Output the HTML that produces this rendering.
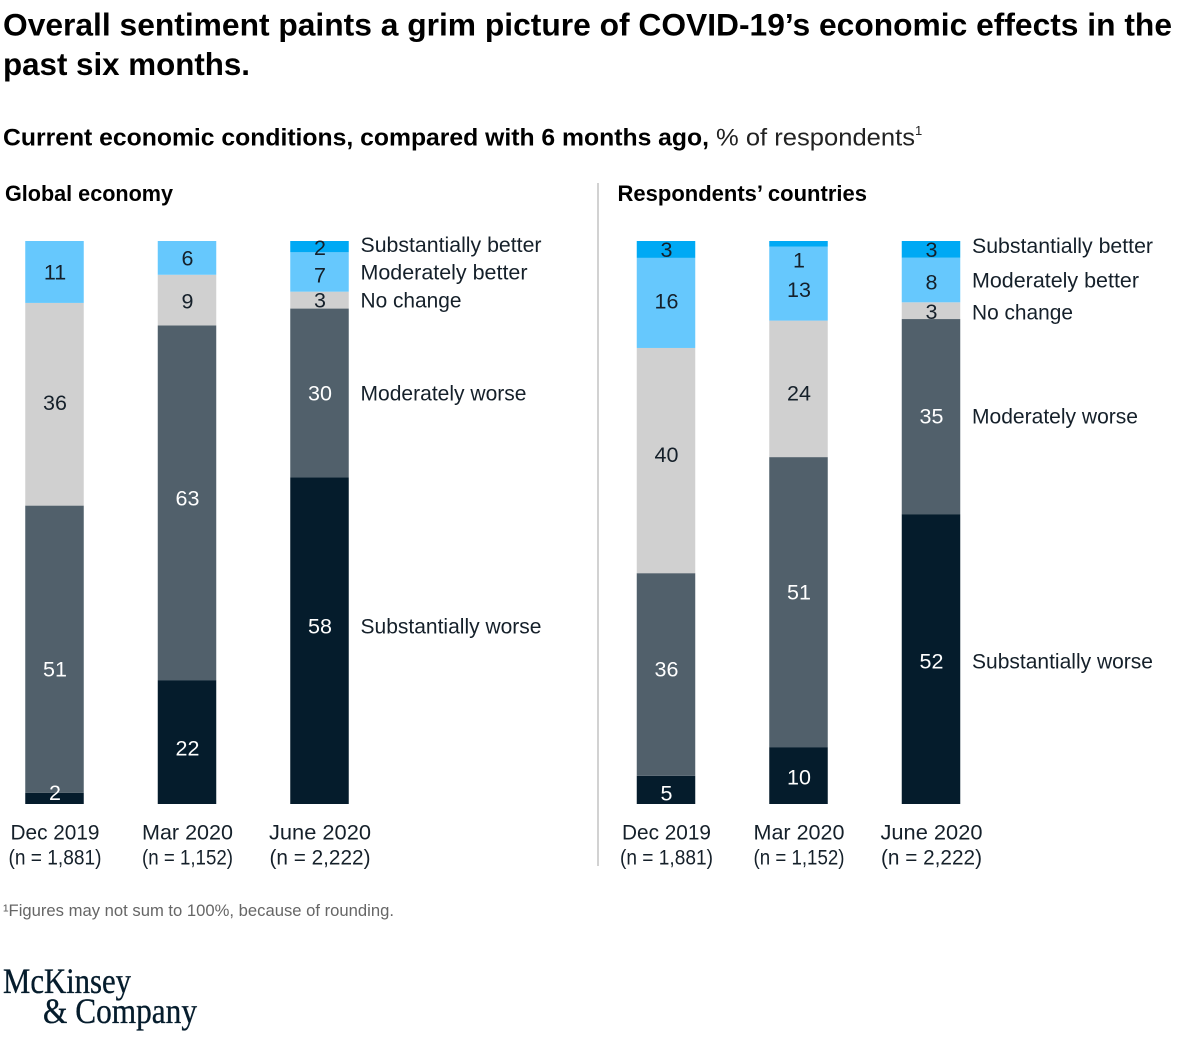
<!DOCTYPE html>
<html lang="en">
<head>
<meta charset="utf-8">
<title>COVID-19 economic sentiment</title>
<style>
html,body{margin:0;padding:0;background:#fff;}
svg{display:block;font-family:"Liberation Sans",sans-serif;}
</style>
</head>
<body>
<svg id="chart" xmlns="http://www.w3.org/2000/svg" width="1200" height="1041" viewBox="0 0 1200 1041">
  <rect x="0" y="0" width="1200" height="1041" fill="#fff"/>
  <text x="3" y="35.5" font-size="31.5" font-weight="700" fill="#000" textLength="1169" lengthAdjust="spacingAndGlyphs">Overall sentiment paints a grim picture of COVID-19’s economic effects in the</text>
  <text x="3" y="75" font-size="31.5" font-weight="700" fill="#000" textLength="247" lengthAdjust="spacingAndGlyphs">past six months.</text>
  <text x="3" y="145.5" font-size="24.5" font-weight="700" fill="#000" textLength="706" lengthAdjust="spacingAndGlyphs">Current economic conditions, compared with 6 months ago,</text>
  <text x="716" y="145.5" font-size="24.5" fill="#222" textLength="199" lengthAdjust="spacingAndGlyphs">% of respondents</text>
  <text x="915" y="135" font-size="13" fill="#222">1</text>
  <text x="5" y="201" font-size="22.5" font-weight="700" fill="#000" textLength="168" lengthAdjust="spacingAndGlyphs">Global economy</text>
  <text x="617.5" y="201" font-size="22.5" font-weight="700" fill="#000" textLength="249.5" lengthAdjust="spacingAndGlyphs">Respondents’ countries</text>
  <line x1="598" y1="183" x2="598" y2="866" stroke="#c4c4c4" stroke-width="1.5"/>
  <g id="marks"></g>
  <text x="3" y="916" font-size="16.5" fill="#666" textLength="391" lengthAdjust="spacingAndGlyphs">¹Figures may not sum to 100%, because of rounding.</text>
  <g font-family="'Liberation Serif',serif" fill="#051c2c" stroke="#051c2c" stroke-width="0.35">
    <text x="3" y="993" font-size="36" textLength="128" lengthAdjust="spacingAndGlyphs">McKinsey</text>
    <text x="43" y="1023" font-size="36" textLength="154" lengthAdjust="spacingAndGlyphs">&amp; Company</text>
  </g>
</svg>
<script>
// Data
const categories = ['Dec 2019', 'Mar 2020', 'June 2020'];
const sampleSizes = ['(n = 1,881)', '(n = 1,152)', '(n = 2,222)'];
const seriesNames = ['Substantially worse', 'Moderately worse', 'No change', 'Moderately better', 'Substantially better'];

const globalSubstantiallyWorse = [2, 22, 58];
const globalModeratelyWorse = [51, 63, 30];
const globalNoChange = [36, 9, 3];
const globalModeratelyBetter = [11, 6, 7];
const globalSubstantiallyBetter = [0, 0, 2];

const countriesSubstantiallyWorse = [5, 10, 52];
const countriesModeratelyWorse = [36, 51, 35];
const countriesNoChange = [40, 24, 3];
const countriesModeratelyBetter = [16, 13, 8];
const countriesSubstantiallyBetter = [3, 1, 3];

// Layout and style, kept apart from the data
const barTop = 241, barBottom = 804, barWidth = 58.5, barStep = 132.5;
const colors = ['#051c2c', '#51606b', '#d0d0d0', '#66c8fd', '#00a9f4'];
const textColors = ['#fff', '#fff', '#15202a', '#15202a', '#15202a'];
const labelInk = '#15202a';
const legendFit = [181, 166, 101, 167, 181];
const categoryFit = [89, 91, 102];
const sampleFit = [93, 91, 101];
const NS = 'http://www.w3.org/2000/svg';
const root = document.getElementById('marks');

const panels = [
  {
    key: 'global', center: 54.5, legendX: 360.5,
    series: [globalSubstantiallyWorse, globalModeratelyWorse, globalNoChange, globalModeratelyBetter, globalSubstantiallyBetter],
    labelShift: [[-6, 6, -14.5], [20, -5, 0], [-2, 1, 0], [0, 0, 3], [0, 0, 1]],
    legendShift: [0, 0, 0, -3, -3]
  },
  {
    key: 'countries', center: 666, legendX: 972,
    series: [countriesSubstantiallyWorse, countriesModeratelyWorse, countriesNoChange, countriesModeratelyBetter, countriesSubstantiallyBetter],
    labelShift: [[3, 1.5, 2], [-5.6, -10, -0.8], [-6, 4, 1], [-2, 6, 2], [0, 16, 0]],
    legendShift: [0, 0, 0.5, -2, -4]
  }
];

function xCenter(panel, i) { return panel.center + i * barStep; }
function yScale(cum, total) { return barBottom - (cum / total) * (barBottom - barTop); }

function addText(parent, x, y, str, size, fill, anchor, fit) {
  const t = document.createElementNS(NS, 'text');
  t.setAttribute('x', x);
  t.setAttribute('y', y);
  t.setAttribute('font-size', size);
  t.setAttribute('fill', fill);
  t.setAttribute('text-anchor', anchor);
  if (fit) {
    t.setAttribute('textLength', fit);
    t.setAttribute('lengthAdjust', 'spacingAndGlyphs');
  }
  t.textContent = str;
  parent.appendChild(t);
  return t;
}

panels.forEach(function (panel) {
  const g = document.createElementNS(NS, 'g');
  
  
  root.appendChild(g);

  categories.forEach(function (cat, i) {
    const cx = xCenter(panel, i);
    const total = panel.series.reduce(function (s, arr) { return s + arr[i]; }, 0);
    let cum = 0;
    panel.series.forEach(function (arr, s) {
      const v = arr[i];
      if (v <= 0) return;
      const y0 = yScale(cum, total);
      const y1 = yScale(cum + v, total);
      cum += v;

      const r = document.createElementNS(NS, 'rect');
      r.setAttribute('x', cx - barWidth / 2);
      r.setAttribute('y', y1);
      r.setAttribute('width', barWidth);
      r.setAttribute('height', y0 - y1);
      r.setAttribute('fill', colors[s]);
      
      
      g.appendChild(r);
    });

    cum = 0;
    panel.series.forEach(function (arr, s) {
      const v = arr[i];
      if (v <= 0) return;
      const y0 = yScale(cum, total);
      const y1 = yScale(cum + v, total);
      cum += v;
      const labelY = (y0 + y1) / 2 + panel.labelShift[s][i];

      const lab = addText(g, cx + 0.5, labelY + 7.5, String(v), 21.5, textColors[s], 'middle');
      
      

      if (i === categories.length - 1) {
        const leg = addText(g, panel.legendX, labelY + 7.5 + panel.legendShift[s], seriesNames[s], 21.5, labelInk, 'start', legendFit[s]);
        
        
      }
    });

    const catLabel = addText(g, cx + 0.5, 839.5, cat, 21.5, labelInk, 'middle', categoryFit[i]);
    
    

    const nLabel = addText(g, cx + 0.5, 864.5, sampleSizes[i], 21.5, labelInk, 'middle', sampleFit[i]);
    
    
  });
});
</script>
</body>
</html>
